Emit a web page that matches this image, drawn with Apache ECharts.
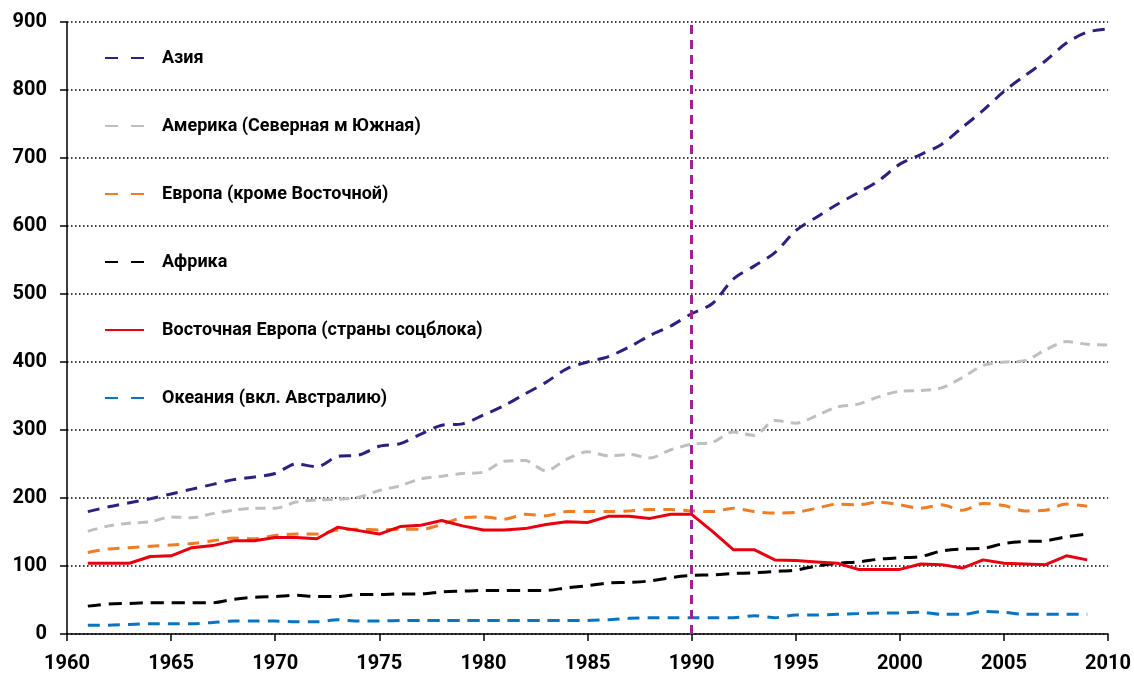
<!DOCTYPE html>
<html>
<head>
<meta charset="utf-8">
<title>Регионы</title>
<script src="https://cdn.jsdelivr.net/npm/echarts@6/dist/echarts.min.js"></script>
<style>
  html, body { margin: 0; padding: 0; background: #fff; }
  #chart { width: 1134px; height: 679px; }
</style>
</head>
<body>
<div id="chart"></div>
<script>
// годы 1961..2010
const years = []
for (let y = 1961; y <= 2010; y++) years.push(y)

const xTicks = [1960, 1965, 1970, 1975, 1980, 1985, 1990, 1995, 2000, 2005, 2010]
const yTicks = [0, 100, 200, 300, 400, 500, 600, 700, 800, 900]

const asia = [180, 187, 193, 199, 206, 213, 220, 227, 231, 236,
  250, 246, 261, 263, 276, 280, 294, 307, 309, 322,
  336, 353, 370, 390, 400, 408, 422, 439, 453, 471,
  486, 522, 541, 561, 593, 613, 632, 649, 667, 691,
  705, 720, 745, 770, 798, 821, 843, 869, 885, 890]
const america = [151, 159, 163, 165, 172, 171, 177, 182, 185, 185,
  194, 197, 198, 201, 211, 218, 228, 232, 236, 238,
  254, 255, 240, 257, 268, 262, 264, 259, 271, 279,
  282, 297, 292, 314, 310, 321, 334, 338, 349, 357,
  358, 362, 377, 395, 400, 402, 418, 430, 426, 425]
const europeWest = [120, 125, 127, 129, 131, 133, 137, 141, 140, 145,
  147, 147, 153, 154, 153, 154, 154, 161, 171, 172,
  169, 176, 174, 180, 180, 180, 181, 183, 183, 181,
  180, 185, 180, 178, 179, 185, 191, 190, 194, 190,
  185, 190, 182, 192, 189, 181, 182, 191, 188]
const africa = [41, 44, 45, 46, 46, 46, 46, 51, 54, 55,
  57, 55, 55, 58, 58, 59, 59, 62, 63, 64,
  64, 64, 64, 68, 71, 75, 76, 78, 83, 86,
  87, 89, 90, 92, 94, 100, 104, 106, 110, 112,
  114, 122, 125, 126, 133, 136, 137, 143, 147]
const europeEast = [104, 104, 104, 114, 115, 127, 130, 137, 137, 142,
  142, 140, 157, 152, 147, 158, 160, 167, 159, 153,
  153, 155, 161, 165, 164, 173, 173, 170, 176, 176,
  151, 124, 124, 109, 108, 106, 104, 95, 95, 95,
  103, 102, 97, 109, 104, 103, 102, 115, 109]
const oceania = [13, 13, 14, 15, 15, 15, 17, 19, 19, 19,
  18, 18, 21, 19, 19, 20, 20, 20, 20, 20,
  20, 20, 20, 20, 20, 21, 23, 24, 24, 24,
  24, 24, 27, 24, 28, 28, 29, 30, 31, 31,
  32, 29, 29, 33, 32, 29, 29, 29, 29]

const markYear = 1990

const names = ['Азия', 'Америка (Северная м Южная)', 'Европа (кроме Восточной)',
  'Африка', 'Восточная Европа (страны соцблока)', 'Океания (вкл. Австралию)']
const colors = ['#2e1f80', '#bfbfbf', '#f07d25', '#000000', '#e8000f', '#0a74c2']
const values = [asia, america, europeWest, africa, europeEast, oceania]
const dashes = [[12, 8], [10, 7], [12, 8], [13, 8], 'solid', [12, 8]]

function pairs(arr) {
  return arr.map((v, i) => [years[i], v])
}

const font = 'Roboto, "Noto Sans", sans-serif'

let myEcharts = echarts.init(document.getElementById('chart'))
myEcharts.setOption({
  animation: false,
  backgroundColor: '#fff',
  grid: { left: 67, right: 25, top: 22, bottom: 45 },
  legend: {
    orient: 'vertical',
    left: 99,
    top: 44,
    itemWidth: 39,
    itemHeight: 14,
    itemGap: 50,
    itemStyle: { opacity: 0 }, // без кружков, только линия
    data: names.map((n, i) => dashes[i] === 'solid'
      ? { name: n }
      : { name: n, lineStyle: { type: [13, 13] } }),
    textStyle: {
      fontFamily: font, fontWeight: 'bold', fontSize: 18, color: '#000',
      padding: [0, 0, 0, 13]
    }
  },
  xAxis: {
    type: 'value',
    min: xTicks[0],
    max: xTicks[xTicks.length - 1],
    interval: 5,
    axisLine: { lineStyle: { color: '#000', width: 1.5 } },
    axisTick: { length: 7, lineStyle: { color: '#000', width: 1.5 } },
    axisLabel: {
      margin: 20, color: '#000', fontFamily: font, fontWeight: 'bold', fontSize: 20,
      formatter: v => String(v)
    },
    splitLine: { show: false }
  },
  yAxis: {
    type: 'value',
    min: yTicks[0],
    max: yTicks[yTicks.length - 1],
    interval: 100,
    axisLine: { show: true, lineStyle: { color: '#000', width: 1.5 } },
    axisTick: { show: true, length: 7, lineStyle: { color: '#000', width: 1.5 } },
    axisLabel: { margin: 20, color: '#000', fontFamily: font, fontWeight: 'bold', fontSize: 20 },
    splitLine: { lineStyle: { color: '#000', type: [1.5, 2.5], width: 1.5 } }
  },
  series: names.map((n, i) => {
    const s = {
      name: n,
      type: 'line',
      data: pairs(values[i]),
      symbol: 'none',
      smooth: dashes[i] === 'solid' ? false : 0.3,
      color: colors[i],
      lineStyle: { color: colors[i], width: 3, type: dashes[i] },
      z: 3
    }
    if (i === 0) {
      // вертикальная линия 1990
      s.markLine = {
        silent: true,
        symbol: ['none', 'none'],
        label: { show: false },
        lineStyle: { color: '#a0218f', type: [9, 6], width: 3 },
        data: [{ xAxis: markYear }]
      }
    }
    return s
  })
})
</script>
</body>
</html>
